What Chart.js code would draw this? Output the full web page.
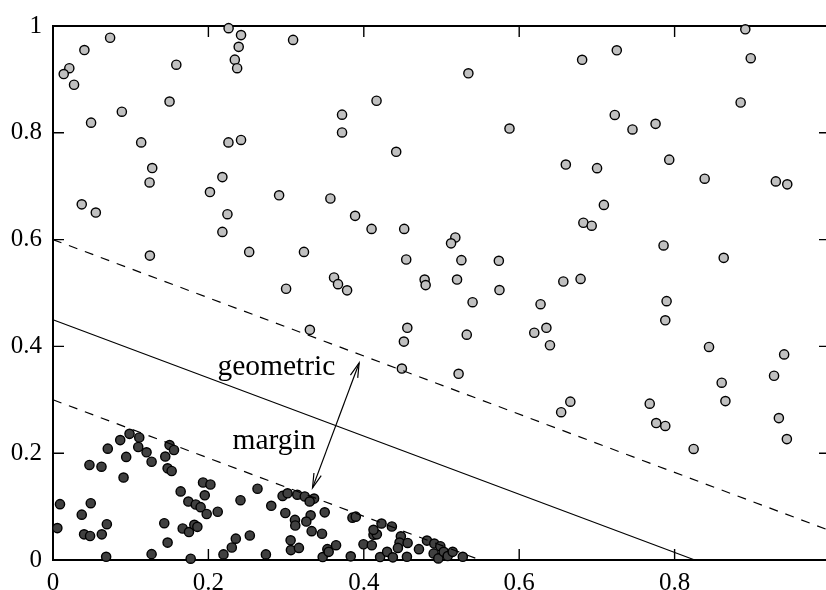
<!DOCTYPE html>
<html>
<head>
<meta charset="utf-8">
<script src="https://cdn.jsdelivr.net/npm/chart.js@4.4.1/dist/chart.umd.min.js"></script>
<style>
  html, body { margin: 0; padding: 0; background: #fff; overflow: hidden; }
  #wrap { width: 826px; height: 590px; overflow: hidden; }
</style>
</head>
<body>
<div id="wrap"><canvas id="svmChart" width="860" height="590"></canvas></div>
<script>
// class +1 (above the separator)
const upperClass = [
  [0.226, 0.996], [0.242, 0.983], [0.239, 0.961], [0.234, 0.937], [0.237, 0.921], [0.309, 0.974],
  [0.0735, 0.978], [0.0404, 0.955], [0.021, 0.921], [0.0138, 0.910], [0.0271, 0.890], [0.1587, 0.9275],
  [0.150, 0.8585], [0.0886, 0.8395], [0.049, 0.819], [0.1135, 0.782], [0.2258, 0.782], [0.242, 0.7866],
  [0.1277, 0.734], [0.1243, 0.707], [0.218, 0.717], [0.202, 0.689], [0.291, 0.683], [0.037, 0.666],
  [0.5346, 0.9114], [0.4164, 0.860], [0.372, 0.834], [0.372, 0.8007], [0.4417, 0.7644], [0.5875, 0.808],
  [0.357, 0.677], [0.891, 0.9938], [0.7256, 0.9545], [0.681, 0.9367], [0.898, 0.9397], [0.885, 0.8567],
  [0.723, 0.8334], [0.7458, 0.8063], [0.7755, 0.8168], [0.660, 0.7405], [0.7002, 0.7338], [0.7931, 0.7497],
  [0.8387, 0.714], [0.9303, 0.709], [0.945, 0.7035], [0.709, 0.665],
  [0.0551, 0.6507], [0.2245, 0.6476], [0.218, 0.6144], [0.1247, 0.570], [0.2525, 0.577], [0.323, 0.577],
  [0.300, 0.508], [0.3306, 0.431], [0.3888, 0.6445], [0.410, 0.620], [0.452, 0.620], [0.5178, 0.604],
  [0.5123, 0.593], [0.4546, 0.5627], [0.5256, 0.5615], [0.5738, 0.5603], [0.3617, 0.529], [0.3668, 0.5166],
  [0.3785, 0.505], [0.4783, 0.5252], [0.4796, 0.5148], [0.52, 0.5252], [0.5746, 0.5055], [0.540, 0.4828],
  [0.6275, 0.479], [0.6568, 0.5215], [0.456, 0.4348], [0.4516, 0.409], [0.5325, 0.422], [0.635, 0.4348],
  [0.6194, 0.4256], [0.6396, 0.4022], [0.449, 0.3585], [0.522, 0.3487],
  [0.6826, 0.6316], [0.6933, 0.626], [0.7858, 0.589], [0.8632, 0.5658], [0.679, 0.5264], [0.7897, 0.4847],
  [0.788, 0.4489], [0.8443, 0.399], [0.941, 0.385], [0.928, 0.345], [0.8606, 0.332],
  [0.6658, 0.2965], [0.654, 0.2768], [0.768, 0.2928], [0.8654, 0.2976], [0.7763, 0.2565], [0.788, 0.251],
  [0.9342, 0.2657], [0.9445, 0.2264], [0.8245, 0.208]
];

// class -1 (below the separator)
const lowerClass = [
  [0.009, 0.1046], [0.0056, 0.0597], [0.037, 0.0849], [0.0486, 0.1064], [0.04, 0.048], [0.0477, 0.0449],
  [0.0628, 0.048], [0.0693, 0.067], [0.0684, 0.006], [0.0469, 0.178], [0.0624, 0.1747], [0.0705, 0.2085],
  [0.0865, 0.2245], [0.0985, 0.2362], [0.111, 0.2294], [0.0942, 0.1931], [0.1097, 0.2116], [0.1204, 0.2017],
  [0.1269, 0.184], [0.0908, 0.1544], [0.150, 0.2153], [0.1557, 0.206], [0.1445, 0.1937], [0.1475, 0.1716],
  [0.1527, 0.1667], [0.1643, 0.1285], [0.1931, 0.1451], [0.2026, 0.1414], [0.1953, 0.1212], [0.1742, 0.1095],
  [0.1837, 0.1039], [0.19, 0.099], [0.1978, 0.0861], [0.212, 0.0904], [0.1432, 0.0689], [0.1669, 0.059],
  [0.175, 0.0523], [0.1819, 0.0658], [0.1858, 0.0621], [0.1475, 0.0326], [0.1269, 0.011], [0.1772, 0.0024],
  [0.2194, 0.0105], [0.2301, 0.0234], [0.2353, 0.04], [0.2533, 0.046], [0.2413, 0.112], [0.2632, 0.1334],
  [0.274, 0.0105], [0.2809, 0.1015], [0.2955, 0.12], [0.3019, 0.1249], [0.3144, 0.1223], [0.299, 0.088],
  [0.3114, 0.0751], [0.3118, 0.0646], [0.3058, 0.0369], [0.3062, 0.0185], [0.3165, 0.0227],
  [0.324, 0.119], [0.336, 0.115], [0.3303, 0.1095], [0.3316, 0.0836], [0.326, 0.072], [0.3329, 0.054],
  [0.3462, 0.0492], [0.3497, 0.0892], [0.3531, 0.0203], [0.3643, 0.0277], [0.3471, 0.0055], [0.3548, 0.0153],
  [0.3832, 0.0068], [0.3854, 0.0793], [0.3897, 0.0812], [0.3996, 0.0295], [0.4103, 0.0277], [0.4125, 0.0474],
  [0.4168, 0.048], [0.4125, 0.0566], [0.4228, 0.0683], [0.4361, 0.0627], [0.421, 0.0055], [0.43, 0.0153],
  [0.4374, 0.005], [0.4477, 0.0443], [0.446, 0.0326], [0.4439, 0.0227], [0.4564, 0.0319], [0.4555, 0.006],
  [0.471, 0.0203], [0.4813, 0.0363], [0.4907, 0.0308], [0.4985, 0.0258], [0.4899, 0.0123], [0.4959, 0.003],
  [0.5028, 0.0153], [0.508, 0.0074], [0.5144, 0.0153], [0.5274, 0.006]
];

// separating hyperplane and the two margin boundaries (end points)
const separator = [[0, 0.45], [0.826, 0]];
const marginUpper = [[0, 0.6], [1, 0.055]];
const marginLower = [[0, 0.3], [0.55, 0]];
// double-headed arrow across the margin
const marginArrow = [[0.394, 0.369], [0.334, 0.135]];

const noteTexts = ['geometric', 'margin'];
const noteAnchors = [[0.2116, 0.346], [0.231, 0.208]];

const toXY = arr => arr.map(([x, y]) => ({ x, y }));
const fmt = v => String(Math.round(v * 10) / 10);

const lineSet = (pts, dash) => ({
  data: toXY(pts),
  showLine: true,
  borderColor: '#000',
  borderWidth: 1.2,
  borderDash: dash,
  pointRadius: 0,
  clip: false
});

// inward tick marks on all four sides, plus the frame
const framePlugin = {
  id: 'frame',
  beforeDatasetsDraw(chart) {
    const { ctx, chartArea: a, scales } = chart;
    ctx.save();
    ctx.strokeStyle = '#000';
    ctx.lineWidth = 1.4;
    ctx.beginPath();
    scales.x.ticks.forEach(t => {
      const px = scales.x.getPixelForValue(t.value);
      ctx.moveTo(px, a.bottom); ctx.lineTo(px, a.bottom - 11);
      ctx.moveTo(px, a.top); ctx.lineTo(px, a.top + 11);
    });
    scales.y.ticks.forEach(t => {
      const py = scales.y.getPixelForValue(t.value);
      ctx.moveTo(a.left, py); ctx.lineTo(a.left + 11, py);
      ctx.moveTo(a.right, py); ctx.lineTo(a.right - 11, py);
    });
    ctx.stroke();
    ctx.lineWidth = 2;
    ctx.strokeRect(a.left, a.top, a.right - a.left, a.bottom - a.top);
    ctx.restore();
  }
};

const arrowPlugin = {
  id: 'arrowHeads',
  afterDatasetsDraw(chart) {
    const idx = chart.data.datasets.findIndex(d => d.label === 'arrow');
    const [p, q] = chart.getDatasetMeta(idx).data;
    const ctx = chart.ctx;
    const len = 15, spread = Math.PI / 12;
    ctx.save();
    ctx.strokeStyle = '#000';
    ctx.lineWidth = 1.2;
    [[p, q], [q, p]].forEach(([tip, tail]) => {
      const ang = Math.atan2(tip.y - tail.y, tip.x - tail.x);
      ctx.beginPath();
      ctx.moveTo(tip.x - len * Math.cos(ang - spread), tip.y - len * Math.sin(ang - spread));
      ctx.lineTo(tip.x, tip.y);
      ctx.lineTo(tip.x - len * Math.cos(ang + spread), tip.y - len * Math.sin(ang + spread));
      ctx.stroke();
    });
    ctx.restore();
  }
};

const notesPlugin = {
  id: 'notes',
  afterDatasetsDraw(chart) {
    const { ctx, scales } = chart;
    ctx.save();
    ctx.fillStyle = '#000';
    ctx.font = '29.5px "Liberation Serif", "Times New Roman", serif';
    ctx.textAlign = 'left';
    ctx.textBaseline = 'alphabetic';
    noteTexts.forEach((t, i) => {
      const [x, y] = noteAnchors[i];
      ctx.fillText(t, scales.x.getPixelForValue(x), scales.y.getPixelForValue(y));
    });
    ctx.restore();
  }
};

const tickFont = { family: '"Liberation Serif", "Times New Roman", serif', size: 25 };

new Chart(document.getElementById('svmChart'), {
  type: 'scatter',
  data: {
    datasets: [
      { label: 'arrow', ...lineSet(marginArrow, []) },
      { label: 'separator', ...lineSet(separator, []) },
      { label: 'margin+', ...lineSet(marginUpper, [9, 8]) },
      { label: 'margin-', ...lineSet(marginLower, [9, 8]) },
      {
        label: 'class -1',
        data: toXY(lowerClass),
        pointRadius: 4.6,
        pointBorderWidth: 1.4,
        pointBackgroundColor: '#404040',
        pointBorderColor: '#000',
        clip: false
      },
      {
        label: 'class +1',
        data: toXY(upperClass),
        pointRadius: 4.6,
        pointBorderWidth: 1.4,
        pointBackgroundColor: '#c0c0c0',
        pointBorderColor: '#000',
        clip: false
      }
    ]
  },
  options: {
    responsive: false,
    animation: false,
    devicePixelRatio: 1,
    layout: { padding: { left: 0, right: 30, top: 18, bottom: 0 } },
    plugins: { legend: { display: false }, tooltip: { enabled: false } },
    scales: {
      x: {
        type: 'linear',
        min: 0,
        max: 1,
        grid: { display: false, drawTicks: false },
        border: { display: false },
        ticks: {
          stepSize: 0.2,
          padding: 8,
          color: '#000',
          font: tickFont,
          maxRotation: 0,
          callback: v => (v >= 1 ? '' : fmt(v))
        },
        afterFit: s => { s.height = 30; }
      },
      y: {
        type: 'linear',
        min: 0,
        max: 1,
        grid: { display: false, drawTicks: false },
        border: { display: false },
        ticks: {
          stepSize: 0.2,
          padding: 11,
          color: '#000',
          font: tickFont,
          callback: v => fmt(v)
        },
        afterFit: s => { s.width = 53; }
      }
    }
  },
  plugins: [framePlugin, arrowPlugin, notesPlugin]
});
</script>
</body>
</html>
